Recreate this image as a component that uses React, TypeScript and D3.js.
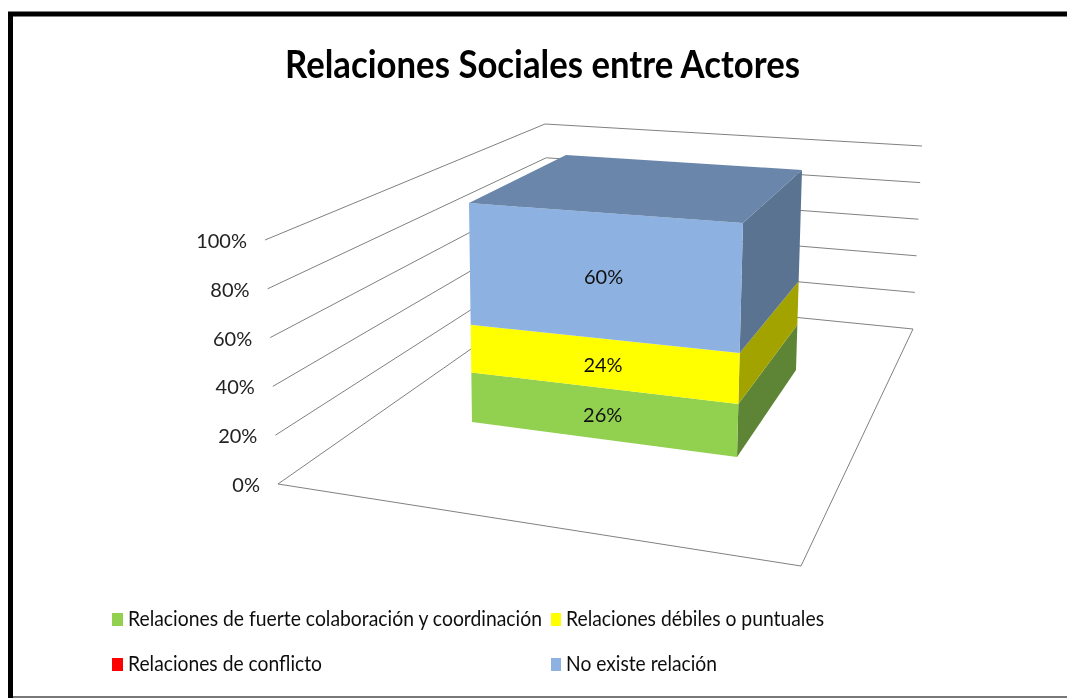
import * as d3 from 'd3';

const seriesNames = [
  'Relaciones de fuerte colaboración y coordinación',
  'Relaciones débiles o puntuales',
  'Relaciones de conflicto',
  'No existe relación',
];
const seriesColors = ['#92d050', '#ffff00', '#ff0000', '#8db1e1'];
const sideColors = ['#5d8534', '#a3a300', '#a30000', '#5a7391'];
const topColors = ['#92d050', '#ffff00', '#ff0000', '#6b86ab'];
const seriesValues = [26, 24, 0, 60];
const valueLabels = ['26%', '24%', '', '60%'];
const axisTicks = [0, 20, 40, 60, 80, 100];
const legendWidths = [414, 258, 194, 151];

type Pt = [number, number];

// una escala por cada arista vertical de la caja 3D
const edgeScale = (bottom: Pt, top: Pt, domain: [number, number], exponent = 1) => {
  const sx = d3.scalePow().exponent(exponent).domain(domain).range([bottom[0], top[0]]);
  const sy = d3.scalePow().exponent(exponent).domain(domain).range([bottom[1], top[1]]);
  return (v: number): Pt => [sx(v), sy(v)];
};

const wallLeft = edgeScale([278, 484], [265, 240], [0, 100]);
const wallBack = edgeScale([551, 293], [545, 124], [0, 100]);
const wallRight = edgeScale([913, 329], [922, 146], [0, 100]);
const floorFront: Pt = [801, 566];

// la perspectiva comprime un poco la parte baja de la columna
const barPerspective = 1.03;
const barFrontLeft = edgeScale([472, 422], [469, 203], [0, 1], barPerspective);
const barFrontRight = edgeScale([737, 457], [743, 223], [0, 1], barPerspective);
const barBackRight = edgeScale([796, 370], [802, 170], [0, 1], barPerspective);
const barBackLeft = edgeScale([571, 340], [566, 155], [0, 1], barPerspective);

const stack = d3
  .stack<number[]>()
  .keys(seriesNames.map((_, i) => String(i)))
  .value((d, key) => d[Number(key)])
  .offset(d3.stackOffsetExpand)([seriesValues]);

const poly = (pts: Pt[]) => pts.map((p) => p.join(',')).join(' ');
const line = d3.line();

const textFont = 'Lato, Roboto, sans-serif';

export default function App() {
  const top = stack[stack.length - 1][0][1];
  return (
    <svg
      width={1067}
      height={698}
      viewBox="0 0 1067 698"
      style={{ position: 'absolute', left: 0, top: 0, background: '#fff' }}
    >
      <defs>
        <filter id="soft" x="-5%" y="-5%" width="110%" height="110%">
          <feGaussianBlur stdDeviation="0.45" />
        </filter>
      </defs>
      <g filter="url(#soft)">
        <path d="M10.5 698V14H1067" fill="none" stroke="#000" strokeWidth={5} />
        <line x1={13} x2={1067} y1={697} y2={697} stroke="#777" strokeWidth={2} />

        <text
          x={285}
          y={78}
          textLength={515}
          lengthAdjust="spacingAndGlyphs"
          fontFamily={textFont}
          fontWeight={700}
          fontSize={39}
          fill="#000"
        >
          Relaciones Sociales entre Actores
        </text>

        {/* paredes y suelo */}
        <g fill="none" stroke="#808080" strokeWidth={1}>
          {axisTicks.map((t) => (
            <path key={t} d={line([wallLeft(t), wallBack(t), wallRight(t)]) ?? ''} />
          ))}
          <path d={line([wallLeft(0), floorFront, wallRight(0)]) ?? ''} />
        </g>

        {axisTicks.map((t) => (
          <text
            key={t}
            x={wallLeft(t)[0] - 18}
            y={wallLeft(t)[1] + 8}
            textAnchor="end"
            fontFamily={textFont}
            fontSize={20}
            fill="#222"
          >
            {t}%
          </text>
        ))}

        {/* columna apilada */}
        {stack.map((s, i) => {
          const [y0, y1] = s[0];
          if (y1 - y0 === 0) return null;
          return (
            <g key={i}>
              <polygon
                points={poly([barFrontRight(y0), barBackRight(y0), barBackRight(y1), barFrontRight(y1)])}
                fill={sideColors[i]}
              />
              <polygon
                points={poly([barFrontLeft(y0), barFrontRight(y0), barFrontRight(y1), barFrontLeft(y1)])}
                fill={seriesColors[i]}
              />
            </g>
          );
        })}
        <polygon
          points={poly([barFrontLeft(top), barFrontRight(top), barBackRight(top), barBackLeft(top)])}
          fill={topColors[3]}
        />

        {stack.map((s, i) => {
          const [y0, y1] = s[0];
          if (y1 - y0 === 0) return null;
          const mid = (y0 + y1) / 2;
          const a = barFrontLeft(mid);
          const b = barFrontRight(mid);
          return (
            <text
              key={i}
              x={(a[0] + b[0]) / 2 - 2}
              y={(a[1] + b[1]) / 2 + 8}
              textAnchor="middle"
              fontFamily={textFont}
              fontSize={20}
              fill="#111"
            >
              {valueLabels[i]}
            </text>
          );
        })}

        {/* leyenda */}
        {seriesNames.map((name, i) => {
          const x = i % 2 === 0 ? 112 : 551;
          const y = i < 2 ? 619 : 664;
          return (
            <g key={name}>
              <rect x={x} y={y - 6} width={i % 2 === 0 ? 11 : 10} height={13} fill={seriesColors[i]} />
              <text
                x={i % 2 === 0 ? 128 : 566}
                y={y + 7}
                textLength={legendWidths[i]}
                lengthAdjust="spacingAndGlyphs"
                fontFamily={textFont}
                fontSize={21}
                fill="#111"
              >
                {name}
              </text>
            </g>
          );
        })}
      </g>
    </svg>
  );
}
